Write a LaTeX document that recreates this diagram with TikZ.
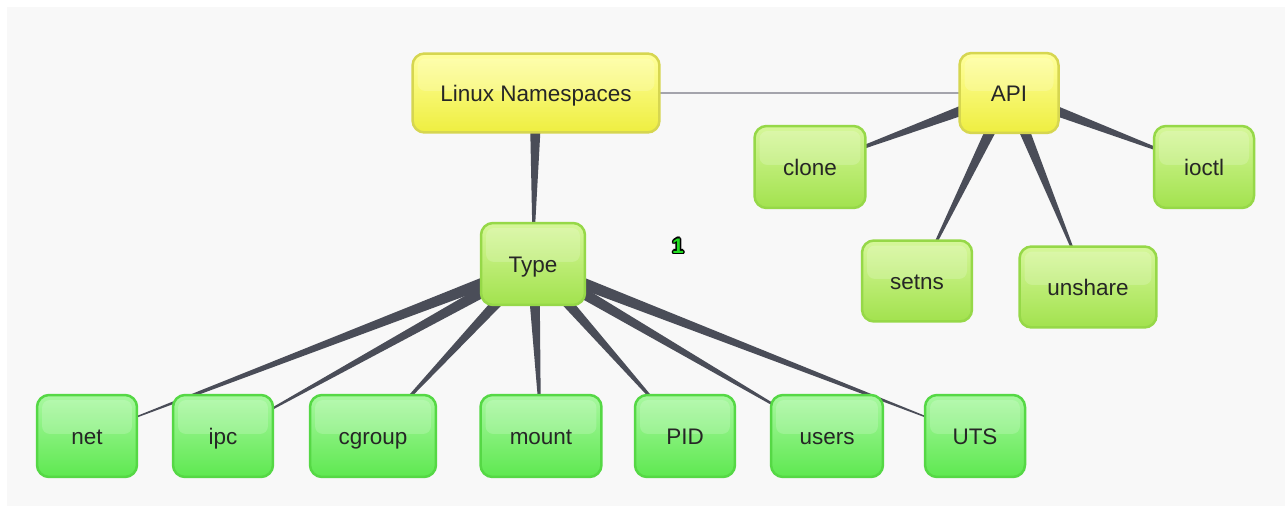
\documentclass[tikz,border=0pt]{standalone}
\usepackage{fontspec}
\setmainfont{Liberation Sans}
\usetikzlibrary{calc}
\usetikzlibrary{backgrounds}

\definecolor{canvas}{HTML}{F8F8F8}
\definecolor{linkgray}{HTML}{4A4D58}
\definecolor{thingray}{HTML}{A4A4AC}
\definecolor{yellowtop}{HTML}{FFFF9E}
\definecolor{yellowbot}{HTML}{EEEE40}
\definecolor{yellowedge}{HTML}{D6D650}
\definecolor{limetop}{HTML}{D6F79A}
\definecolor{limebot}{HTML}{A2E24E}
\definecolor{limeedge}{HTML}{96D848}
\definecolor{greentop}{HTML}{A8F8A0}
\definecolor{greenbot}{HTML}{5EE850}
\definecolor{greenedge}{HTML}{55D845}
\definecolor{badgegreen}{HTML}{22DD22}

\tikzset{
  topic/.style={rounded corners=2.4mm, line width=0.5mm, inner sep=0pt,
    minimum height=16.4mm, font=\fontsize{12.8}{15}\selectfont, text=black!85,
    text height=0.98em, text depth=0pt,
    path picture={\fill[white,opacity=0.18,rounded corners=1.6mm]
      ($(path picture bounding box.north west)+(1mm,-1mm)$) rectangle
      ($(path picture bounding box.east)+(-1mm,0.4mm)$);}},
  rootbox/.style={topic, draw=yellowedge, top color=yellowtop, bottom color=yellowbot},
  groupbox/.style={topic, draw=limeedge, top color=limetop, bottom color=limebot},
  leafbox/.style={topic, draw=greenedge, top color=greentop, bottom color=greenbot},
}

% tapered branch: wide at the parent, narrowing to the child
\newcommand{\wedgelink}[2]{%
  \fill[linkgray] (#1.center) -- ($(#1.center)!1.3mm!90:(#2.center)$) -- (#2.center)
    -- ($(#1.center)!1.3mm!-90:(#2.center)$) -- cycle;}

\begin{document}
\begin{tikzpicture}[x=0.02cm,y=-0.02cm]
  \useasboundingbox (0,0) rectangle (1285,506);

  % top level
  \node[rootbox, minimum width=49.4mm, minimum height=15.8mm] (ns) at (536,93) {Linux Namespaces};
  \node[rootbox, minimum width=19.8mm, minimum height=16mm] (api) at (1009,93) {API};

  % API calls
  \node[groupbox, minimum width=22.2mm] (clone) at (810,167) {clone};
  \node[groupbox, minimum width=20mm] (ioctl) at (1204,167) {ioctl};
  \node[groupbox, minimum width=22mm, minimum height=16.2mm] (setns) at (917,281) {setns};
  \node[groupbox, minimum width=27.4mm, minimum height=16.2mm] (unshare) at (1088,287) {unshare};

  % namespace kinds
  \node[groupbox, minimum width=20.8mm] (type) at (533,264) {Type};
  \node[leafbox, minimum width=20mm] (net) at (87,436) {net};
  \node[leafbox, minimum width=20mm] (ipc) at (223,436) {ipc};
  \node[leafbox, minimum width=25.2mm] (cgroup) at (373,436) {cgroup};
  \node[leafbox, minimum width=24.2mm] (mount) at (541,436) {mount};
  \node[leafbox, minimum width=20mm] (pid) at (685,436) {PID};
  \node[leafbox, minimum width=22.4mm] (users) at (827,436) {users};
  \node[leafbox, minimum width=20mm] (uts) at (975,436) {UTS};

  % badge
  \foreach \dx/\dy [count=\i] in {-1.5/0,1.5/0,0/-1.5,0/1.5,-1.1/-1.1,1.1/-1.1,-1.1/1.1,1.1/1.1}
    \node[font=\bfseries\fontsize{12}{14}\selectfont, text=black] (badge\i) at ($(678,246)+(\dx,\dy)$) {1};
  \node[font=\bfseries\fontsize{12}{14}\selectfont, text=badgegreen] (badge) at (678,246) {1};

  \begin{pgfonlayer}{background}
    \fill[canvas] (7,7) rectangle (1285,506);
    \draw[thingray, line width=0.4mm] (ns.center) -- (api.center);
    \wedgelink{ns}{type}
    \foreach \leaf in {net,ipc,cgroup,mount,pid,users,uts}
      {\wedgelink{type}{\leaf}}
    \foreach \call in {clone,ioctl,setns,unshare}
      {\wedgelink{api}{\call}}
  \end{pgfonlayer}
\end{tikzpicture}
\end{document}
